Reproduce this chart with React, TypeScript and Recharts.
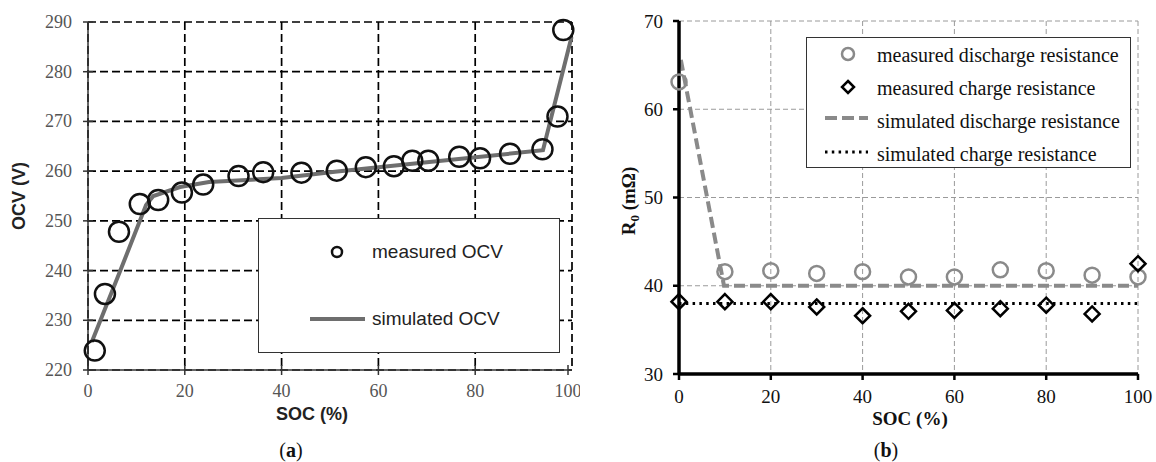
import React from "react";
import {
  ComposedChart,
  Line,
  Scatter,
  XAxis,
  YAxis,
  CartesianGrid,
  Legend,
} from "recharts";

// (a) open circuit voltage vs state of charge
const ocvMeasSoc = [1.4, 3.5, 6.4, 10.7, 14.5, 19.4, 23.8, 31.1, 36.2, 44.1, 51.4, 57.4, 63.2, 67.0, 70.3, 76.7, 81.0, 87.2, 93.9, 97.0, 98.2];
const ocvMeasured = [223.9, 235.3, 247.8, 253.4, 254.2, 255.7, 257.3, 259.0, 259.8, 259.7, 260.1, 260.8, 261.0, 262.1, 262.1, 262.9, 262.6, 263.5, 264.4, 271.0, 288.4];
const ocvSimSoc = [0.8, 6.6, 12, 13.5, 19, 25, 40, 51, 70, 94, 99.9];
const ocvSimulated = [225.7, 239.8, 253.2, 255.0, 256.8, 257.8, 258.6, 259.9, 261.8, 264.2, 287];
const ocvTicks = [220, 230, 240, 250, 260, 270, 280, 290];
const socTicks = [0, 20, 40, 60, 80, 100];

// (b) internal resistance vs state of charge
const rSoc = [0, 10, 20, 30, 40, 50, 60, 70, 80, 90, 100];
const rDischarge = [63.1, 41.6, 41.7, 41.4, 41.6, 41.0, 41.0, 41.8, 41.7, 41.2, 41.0];
const rCharge = [38.2, 38.2, 38.2, 37.6, 36.6, 37.1, 37.2, 37.4, 37.8, 36.8, 42.5];
const simDischSoc = [0.4, 9.8, 100];
const simDischarge = [65.6, 40, 40];
const simChargeSoc = [0, 100];
const simCharge = [38, 38];
const rTicks = [30, 40, 50, 60, 70];

const zip = (xs: number[], ys: number[]) => xs.map((x, i) => ({ x, y: ys[i] }));

const ocvMeasData = zip(ocvMeasSoc, ocvMeasured);
const ocvSimData = zip(ocvSimSoc, ocvSimulated);
const dischData = zip(rSoc, rDischarge);
const chargeData = zip(rSoc, rCharge);
const simDischData = zip(simDischSoc, simDischarge);
const simChargeData = zip(simChargeSoc, simCharge);

const SANS = "'Liberation Sans', Arial, sans-serif";
const SERIF = "'Liberation Serif', 'Times New Roman', serif";
const GRAY = "#8a8a8a";

const LeftYTick = ({ x, y, payload }: any) => (
  <g>
    <line x1={x - 5} x2={x + 5} y1={y} y2={y} stroke="#333" strokeWidth={1.5} />
    <text x={x - 16} y={y} textAnchor="end" dominantBaseline="central" fill="#555" fontSize={18} fontFamily={SERIF}>
      {payload.value}
    </text>
  </g>
);

const LeftXTick = ({ x, y, payload }: any) => (
  <g>
    <line x1={x} x2={x} y1={y - 5} y2={y + 5} stroke="#333" strokeWidth={1.5} />
    <text x={x} y={y + 21} textAnchor="middle" dominantBaseline="central" fill="#555" fontSize={18} fontFamily={SERIF}>
      {payload.value}
    </text>
  </g>
);

const BigCircle = (p: any) => <circle cx={p.cx} cy={p.cy} r={10} fill="none" stroke="#111" strokeWidth={2.5} />;
const GrayCircle = (p: any) => <circle cx={p.cx} cy={p.cy} r={7.5} fill="none" stroke={GRAY} strokeWidth={2.5} />;
const Diamond = (p: any) => (
  <path
    d={`M${p.cx},${p.cy - 7.5} L${p.cx + 7.5},${p.cy} L${p.cx},${p.cy + 7.5} L${p.cx - 7.5},${p.cy} Z`}
    fill="none"
    stroke="#000"
    strokeWidth={2.5}
  />
);

const LeftLegend = () => (
  <div style={{ position: "relative", width: 302, height: 135, border: "1.5px solid #333", background: "#fff", boxSizing: "border-box" }}>
    <svg width={302} height={135} style={{ position: "absolute", left: -1.5, top: -1.5 }}>
      <circle cx={79} cy={34} r={5} fill="none" stroke="#111" strokeWidth={2.5} />
      <line x1={52} x2={107} y1={101} y2={101} stroke="#6e6e6e" strokeWidth={4} />
    </svg>
    {[
      { label: "measured OCV", y: 34 },
      { label: "simulated OCV", y: 101 },
    ].map((r) => (
      <div key={r.label} style={{ position: "absolute", left: 113, top: r.y - 13, lineHeight: "24px", fontSize: 19, fontFamily: SANS, color: "#222", whiteSpace: "nowrap" }}>
        {r.label}
      </div>
    ))}
  </div>
);

const RightLegend = () => (
  <div style={{ position: "relative", width: 325, height: 131, border: "1.5px solid #333", background: "#fff", boxSizing: "border-box" }}>
    <svg width={325} height={131} style={{ position: "absolute", left: -1.5, top: -1.5 }}>
      <circle cx={42} cy={17} r={6} fill="none" stroke={GRAY} strokeWidth={2.5} />
      <path d="M42,44 L48,50 L42,56 L36,50 Z" fill="none" stroke="#000" strokeWidth={2.5} />
      <line x1={19} x2={62} y1={81} y2={81} stroke={GRAY} strokeWidth={4} strokeDasharray="12 5" />
      <line x1={19} x2={62} y1={115} y2={115} stroke="#000" strokeWidth={3} strokeDasharray="2.5 4.3" />
    </svg>
    {[
      { label: "measured discharge resistance", y: 18 },
      { label: "measured charge resistance", y: 51 },
      { label: "simulated discharge resistance", y: 84 },
      { label: "simulated charge resistance", y: 117 },
    ].map((r) => (
      <div key={r.label} style={{ position: "absolute", left: 70, top: r.y - 13, lineHeight: "24px", fontSize: 20, fontFamily: SERIF, color: "#111", whiteSpace: "nowrap" }}>
        {r.label}
      </div>
    ))}
  </div>
);

const Label = ({ x, y, rotate, style, children }: any) => (
  <div
    style={{
      position: "absolute",
      left: x,
      top: y,
      transform: `translate(-50%, -50%)${rotate ? " rotate(-90deg)" : ""}`,
      whiteSpace: "nowrap",
      lineHeight: 1,
      ...style,
    }}
  >
    {children}
  </div>
);

export default function App() {
  return (
    <div style={{ position: "absolute", left: 0, top: 0, width: 1156, height: 462, background: "#fff", overflow: "hidden" }}>
      <div style={{ position: "absolute", left: 0, top: 0 }}>
        <ComposedChart width={580} height={462} margin={{ top: 22, right: 8, left: 0, bottom: 62 }}>
          <CartesianGrid stroke="#000" strokeWidth={1.7} strokeDasharray="8 4" />
          <XAxis
            dataKey="x"
            type="number"
            domain={[0, 100]}
            ticks={socTicks}
            height={30}
            tickSize={0}
            tickMargin={0}
            tickLine={false}
            axisLine={{ stroke: "#333", strokeWidth: 1.5 }}
            tick={<LeftXTick />}
          />
          <YAxis
            type="number"
            domain={[220, 290]}
            ticks={ocvTicks}
            width={88}
            tickSize={0}
            tickMargin={0}
            tickLine={false}
            axisLine={{ stroke: "#333", strokeWidth: 1.5 }}
            tick={<LeftYTick />}
          />
          <Line data={ocvSimData} dataKey="y" stroke="#6e6e6e" strokeWidth={4} dot={false} isAnimationActive={false} />
          <Scatter data={ocvMeasData} dataKey="y" shape={BigCircle} isAnimationActive={false} />
          <Legend
            layout="vertical"
            align="center"
            verticalAlign="middle"
            content={() => <LeftLegend />}
            wrapperStyle={{ left: 258, top: 218, width: 302, height: 135 }}
          />
        </ComposedChart>
      </div>

      <div style={{ position: "absolute", left: 580, top: 0 }}>
        <ComposedChart width={576} height={462} margin={{ top: 21, right: 18, left: 0, bottom: 58 }}>
          <CartesianGrid stroke="#9a9a9a" strokeWidth={1} strokeDasharray="5 3" />
          <XAxis
            dataKey="x"
            type="number"
            domain={[0, 100]}
            ticks={socTicks}
            height={30}
            tickSize={6}
            tickMargin={10}
            tickLine={{ stroke: "#000", strokeWidth: 2.5 }}
            axisLine={{ stroke: "#000", strokeWidth: 3.5 }}
            tick={{ fill: "#111", fontSize: 19, fontFamily: SERIF }}
          />
          <YAxis
            type="number"
            domain={[30, 70]}
            ticks={rTicks}
            width={99}
            tickSize={6}
            tickMargin={10}
            tickLine={{ stroke: "#000", strokeWidth: 2.5 }}
            axisLine={{ stroke: "#000", strokeWidth: 3.5 }}
            tick={{ fill: "#111", fontSize: 19, fontFamily: SERIF }}
          />
          <Line data={simDischData} dataKey="y" stroke={GRAY} strokeWidth={4} strokeDasharray="11 5" dot={false} isAnimationActive={false} />
          <Line data={simChargeData} dataKey="y" stroke="#000" strokeWidth={3} strokeDasharray="2.5 4.3" dot={false} isAnimationActive={false} />
          <Scatter data={dischData} dataKey="y" shape={GrayCircle} isAnimationActive={false} />
          <Scatter data={chargeData} dataKey="y" shape={Diamond} isAnimationActive={false} />
          <Legend
            layout="vertical"
            align="center"
            verticalAlign="middle"
            content={() => <RightLegend />}
            wrapperStyle={{ left: 226, top: 37, width: 325, height: 131 }}
          />
        </ComposedChart>
      </div>

      <Label x={19} y={196} rotate style={{ fontFamily: SANS, fontWeight: 700, fontSize: 18, color: "#222" }}>
        OCV (V)
      </Label>
      <Label x={312} y={414} style={{ fontFamily: SANS, fontWeight: 700, fontSize: 18, color: "#222" }}>
        SOC (%)
      </Label>
      <Label x={291} y={450} style={{ fontFamily: SERIF, fontSize: 20, color: "#111" }}>
        (<b>a</b>)
      </Label>
      <Label x={630} y={201} rotate style={{ fontFamily: SERIF, fontWeight: 700, fontSize: 19, color: "#111" }}>
        R<sub style={{ fontSize: 13 }}>0</sub> (mΩ)
      </Label>
      <Label x={910} y={418} style={{ fontFamily: SERIF, fontWeight: 700, fontSize: 19, color: "#111" }}>
        SOC (%)
      </Label>
      <Label x={886} y={450} style={{ fontFamily: SERIF, fontSize: 20, color: "#111" }}>
        (<b>b</b>)
      </Label>
    </div>
  );
}
